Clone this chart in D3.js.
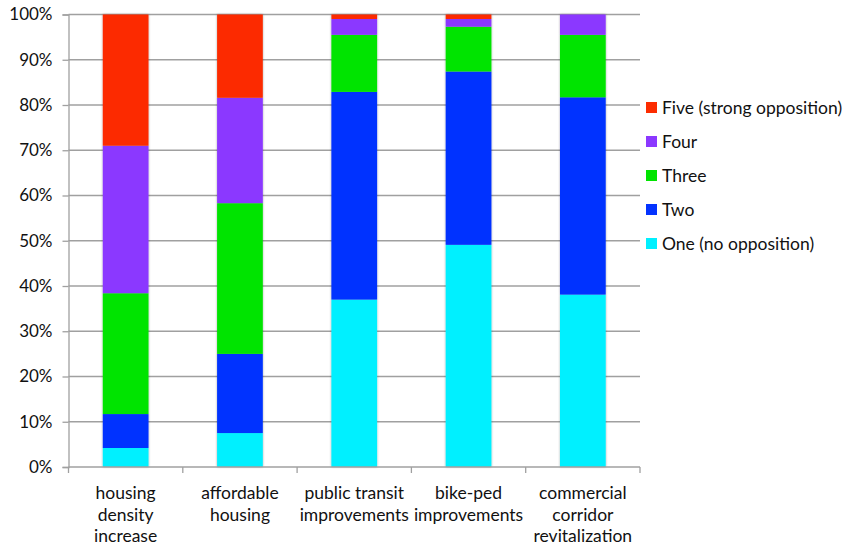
<!DOCTYPE html>
<html>
<head>
<meta charset="utf-8">
<script src="https://cdn.jsdelivr.net/npm/d3@7"></script>
<style>
  html, body { margin: 0; padding: 0; background: #fff; }
  svg text { font-family: Lato, "Open Sans", sans-serif; fill: #111; }
</style>
</head>
<body>
<svg id="chart" width="844" height="546"></svg>
<script>
// Survey responses: level of opposition by project type (shares of respondents)
const categories = [
  "housing density increase",
  "affordable housing",
  "public transit improvements",
  "bike-ped improvements",
  "commercial corridor revitalization"
];
const categoryLines = [
  ["housing", "density", "increase"],
  ["affordable", "housing"],
  ["public transit", "improvements"],
  ["bike-ped", "improvements"],
  ["commercial", "corridor", "revitalization"]
];
const seriesNames = ["One (no opposition)", "Two", "Three", "Four", "Five (strong opposition)"];
const seriesColors = ["#00F0FF", "#0433FF", "#00E400", "#8B38FF", "#FC2C00"];

// percent of respondents, one array per opposition level
const one   = [4.2, 7.5, 37.0, 49.1, 38.1];
const two   = [7.5, 17.5, 45.9, 38.3, 43.6];
const three = [26.7, 33.3, 12.6, 9.9, 13.8];
const four  = [32.6, 23.3, 3.5, 1.7, 4.5];
const five  = [29.0, 18.4, 1.0, 1.0, 0.0];

const yTicks = [0, 10, 20, 30, 40, 50, 60, 70, 80, 90, 100];

const seriesValues = [one, two, three, four, five];
const keys = seriesNames.map((_, i) => "s" + i);
const table = categories.map((c, ci) => {
  const row = { category: c };
  keys.forEach((k, si) => row[k] = seriesValues[si][ci]);
  return row;
});

const svg = d3.select("#chart");
const margin = { left: 68.5, right: 204, top: 14.5, bottom: 79 };
const W = 844, H = 546;

const x = d3.scaleBand()
  .domain(categories)
  .range([margin.left, W - margin.right])
  .paddingInner(0.6)
  .paddingOuter(0.3);

const y = d3.scaleLinear()
  .domain([0, 100])
  .range([H - margin.bottom, margin.top]);

const defs = svg.append("defs");
const f = defs.append("filter").attr("id", "barShadow")
  .attr("x", "-20%").attr("y", "-5%").attr("width", "140%").attr("height", "110%");
f.append("feDropShadow").attr("dx", 0).attr("dy", 0)
  .attr("stdDeviation", 1.3).attr("flood-color", "#000").attr("flood-opacity", 0.35);

// gridlines
svg.append("g")
  .selectAll("line")
  .data(yTicks.filter(t => t > 0))
  .join("line")
  .attr("x1", margin.left).attr("x2", W - margin.right)
  .attr("y1", d => y(d)).attr("y2", d => y(d))
  .attr("stroke", "#a0a0a0").attr("stroke-width", 1.3);

// y axis
const yAxis = svg.append("g")
  .attr("transform", `translate(${margin.left},0)`)
  .call(d3.axisLeft(y).tickValues(yTicks).tickFormat(d => d + "%").tickSize(6).tickPadding(10));
yAxis.select(".domain").attr("stroke", "#a0a0a0").attr("stroke-width", 1.3);
yAxis.selectAll(".tick line").attr("stroke", "#a0a0a0").attr("stroke-width", 1.3);
yAxis.selectAll(".tick text")
  .attr("font-size", 17).attr("font-family", "Lato, 'Open Sans', sans-serif").attr("fill", "#111");

// stacked bars
const stacked = d3.stack().keys(keys)(table);
const columns = svg.append("g").selectAll("g.col")
  .data(categories)
  .join("g")
  .attr("class", "col")
  .attr("filter", "url(#barShadow)");

columns.each(function(cat, ci) {
  d3.select(this).selectAll("rect")
    .data(stacked.map((layer, si) => ({ si, d: layer[ci] })))
    .join("rect")
    .attr("x", x(cat))
    .attr("width", x.bandwidth())
    .attr("y", o => y(o.d[1]))
    .attr("height", o => y(o.d[0]) - y(o.d[1]))
    .attr("fill", o => seriesColors[o.si]);
});

// x axis
const xAxisY = y(0);
svg.append("line")
  .attr("x1", margin.left).attr("x2", W - margin.right)
  .attr("y1", xAxisY).attr("y2", xAxisY)
  .attr("stroke", "#a0a0a0").attr("stroke-width", 1.3);
const bounds = d3.range(categories.length + 1).map(i => margin.left + i * (W - margin.left - margin.right) / categories.length);
svg.append("g").selectAll("line")
  .data(bounds)
  .join("line")
  .attr("x1", d => d).attr("x2", d => d)
  .attr("y1", xAxisY).attr("y2", xAxisY + 6)
  .attr("stroke", "#a0a0a0").attr("stroke-width", 1.3);

const xLabels = svg.append("g").selectAll("text")
  .data(categories)
  .join("text")
  .attr("x", d => x(d) + x.bandwidth() / 2)
  .attr("y", xAxisY + 32)
  .attr("text-anchor", "middle")
  .attr("font-size", 17.5);
xLabels.each(function(d, i) {
  d3.select(this).selectAll("tspan")
    .data(categoryLines[i])
    .join("tspan")
    .attr("x", x(d) + x.bandwidth() / 2)
    .attr("dy", (l, j) => j === 0 ? 0 : 21.5)
    .text(l => l);
});

// legend (top entry is the strongest opposition)
const legendOrder = d3.range(seriesNames.length).reverse();
const legend = svg.append("g").selectAll("g")
  .data(legendOrder)
  .join("g")
  .attr("transform", (si, i) => `translate(646, ${108 + i * 34})`);
legend.append("rect")
  .attr("x", 0).attr("y", -6).attr("width", 11).attr("height", 11)
  .attr("fill", si => seriesColors[si]);
legend.append("text")
  .attr("x", 16).attr("y", 0).attr("dy", "0.35em")
  .attr("font-size", 17.5)
  .text(si => seriesNames[si]);
</script>
</body>
</html>
